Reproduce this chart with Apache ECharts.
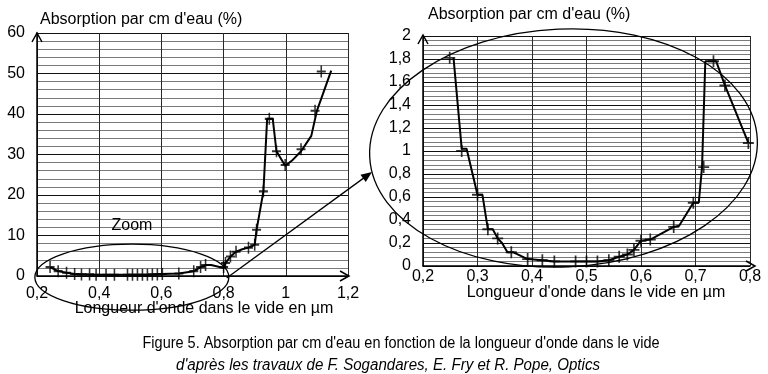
<!DOCTYPE html>
<html><head><meta charset="utf-8">
<script src="https://cdn.jsdelivr.net/npm/echarts@6/dist/echarts.min.js"></script>
<style>html,body{margin:0;padding:0;background:#fff}#c{width:768px;height:374px}</style>
</head><body><div id="c"></div>
<script>
// ---------- DATA ----------
// Left chart (full range) : measured points (crosses)
const leftPointsX = [0.242,0.268,0.295,0.321,0.343,0.369,0.39,0.422,0.449,0.491,0.507,0.523,0.539,0.555,0.571,0.587,0.603,0.656,0.704,0.726,0.742,0.80,0.806,0.822,0.84,0.88,0.90,0.906,0.928,0.947,0.97,0.998,1.049,1.094,1.114];
const leftPointsY = [2.2,1.2,0.8,0.5,0.4,0.4,0.3,0.3,0.3,0.3,0.3,0.3,0.3,0.3,0.4,0.4,0.5,0.6,1.2,2.2,2.7,2.2,3.2,4.8,6.0,7.0,7.7,11.4,20.9,38.8,30.8,27.4,31.3,40.8,50.5];
// Left chart : hand-drawn curve through the points
const leftCurveX = [0.242,0.268,0.295,0.321,0.36,0.42,0.56,0.60,0.656,0.704,0.726,0.742,0.76,0.80,0.806,0.822,0.84,0.86,0.88,0.90,0.906,0.928,0.94,0.958,0.97,0.975,0.998,1.02,1.049,1.082,1.10,1.114,1.146];
const leftCurveY = [2.2,1.2,0.8,0.5,0.4,0.3,0.3,0.5,0.6,1.2,2.2,2.7,2.7,2.0,3.2,4.8,6.0,6.6,7.0,7.7,11.4,20.9,38.8,38.8,30.8,30.5,27.2,28.5,30.8,34.6,40.8,43.8,50.7];
// Right chart (zoom 0.2-0.8 µm) : measured points
const rightPointsX = [0.249,0.271,0.300,0.319,0.337,0.362,0.392,0.419,0.441,0.48,0.50,0.52,0.541,0.56,0.575,0.587,0.60,0.617,0.66,0.696,0.715,0.733,0.754,0.797];
const rightPointsY = [1.81,1.0,0.62,0.32,0.24,0.12,0.06,0.05,0.04,0.04,0.04,0.04,0.05,0.08,0.10,0.14,0.22,0.23,0.34,0.55,0.86,1.78,1.57,1.07];
// Right chart : hand-drawn curve
const rightCurveX = [0.256,0.256,0.271,0.280,0.300,0.309,0.319,0.328,0.337,0.345,0.355,0.365,0.392,0.419,0.441,0.48,0.52,0.541,0.56,0.575,0.587,0.60,0.617,0.66,0.67,0.696,0.706,0.712,0.718,0.738,0.754,0.797];
const rightCurveY = [1.81,1.81,1.02,1.02,0.62,0.62,0.32,0.32,0.24,0.20,0.12,0.12,0.06,0.05,0.04,0.04,0.04,0.05,0.08,0.10,0.14,0.22,0.23,0.34,0.35,0.55,0.55,0.86,1.78,1.78,1.57,1.07];
// Tick labels
const leftXTicks = [0.2,0.4,0.6,0.8,1.0,1.2];
const leftXLabels = ['0,2','0,4','0,6','0,8','1','1,2'];
const leftYTicks = [0,10,20,30,40,50,60];
const leftYLabels = ['0','10','20','30','40','50','60'];
const rightXTicks = [0.2,0.3,0.4,0.5,0.6,0.7,0.8];
const rightXLabels = ['0,2','0,3','0,4','0,5','0,6','0,7','0,8'];
const rightYTicks = [0,0.2,0.4,0.6,0.8,1.0,1.2,1.4,1.6,1.8,2.0];
const rightYLabels = ['0','0,2','0,4','0,6','0,8','1','1,2','1,4','1,6','1,8','2'];
// Texts
const yTitle = "Absorption par cm d'eau (%)";
const xTitle = "Longueur d'onde dans le vide en µm";
const zoomText = 'Zoom';
const caption1 = "Figure 5. Absorption par cm d'eau en fonction de la longueur d'onde dans le vide";
const caption2 = "d'après les travaux de F. Sogandares, E. Fry et R. Pope, Optics";

// ---------- CHART ----------
const FONT = "'Liberation Sans', Arial, sans-serif";
const zip = (a, b) => a.map((v, i) => [v, b[i]]);
const lab = (ticks, labels) => v => { const i = ticks.findIndex(t => Math.abs(t - v) < 1e-6); return i >= 0 ? labels[i] : ''; };
const plus = 'path://M5 0L5 10M0 5L10 5';

function xAxis(gi, min, max, interval, ticks, labels, margin) {
  return { type:'value', gridIndex:gi, min, max, interval,
    axisLine:{show:true, onZero:false, lineStyle:{color:'#000', width:1.5}},
    axisTick:{show:false},
    axisLabel:{formatter:lab(ticks, labels), color:'#000', fontFamily:FONT, fontSize:16, margin, showMaxLabel:true, showMinLabel:true},
    splitLine:{show:true, lineStyle:{color:'#2a2a2a', width:1}} };
}
function yAxis(gi, min, max, interval, ticks, labels) {
  return { type:'value', gridIndex:gi, min, max, interval,
    axisLine:{show:true, onZero:false, lineStyle:{color:'#000', width:1.5}},
    axisTick:{show:false},
    axisLabel:{formatter:lab(ticks, labels), color:'#000', fontFamily:FONT, fontSize:16, margin:12},
    splitLine:{show:true, lineStyle:{color:'#111', width:1.2}},
    minorTick:{show:false, splitNumber:5},
    minorSplitLine:{show:true, lineStyle:{color:'#7a7a7a', width:1}} };
}

const chart = echarts.init(document.getElementById('c'));
chart.setOption({
  animation:false,
  backgroundColor:'#fff',
  grid:[
    {left:37, top:33, width:311, height:243},
    {left:423, top:36, width:327, height:230}
  ],
  xAxis:[ xAxis(0, 0.2, 1.2, 0.2, leftXTicks, leftXLabels, 10), xAxis(1, 0.2, 0.8, 0.1, rightXTicks, rightXLabels, 3) ],
  yAxis:[ yAxis(0, 0, 60, 10, leftYTicks, leftYLabels), yAxis(1, 0, 2, 0.2, rightYTicks, rightYLabels) ],
  series:[
    {type:'line', xAxisIndex:0, yAxisIndex:0, data:zip(leftCurveX, leftCurveY), symbol:'none', lineStyle:{color:'#000', width:2}, z:5},
    {type:'scatter', xAxisIndex:0, yAxisIndex:0, data:zip(leftPointsX, leftPointsY), symbol:plus, symbolSize:[9,12], itemStyle:{color:'rgba(0,0,0,0)', borderColor:'#000', borderWidth:1.8}, z:6},
    {type:'line', xAxisIndex:1, yAxisIndex:1, data:zip(rightCurveX, rightCurveY), symbol:'none', lineStyle:{color:'#000', width:2}, z:5},
    {type:'scatter', xAxisIndex:1, yAxisIndex:1, data:zip(rightPointsX, rightPointsY), symbol:plus, symbolSize:[11,12], itemStyle:{color:'rgba(0,0,0,0)', borderColor:'#000', borderWidth:1.8}, z:6}
  ]
});

// ---------- ANNOTATIONS ----------
const p0 = v => chart.convertToPixel({gridIndex:0}, v);
const p1 = v => chart.convertToPixel({gridIndex:1}, v);
const mctx = document.createElement('canvas').getContext('2d');
function fitScale(text, font, target) { mctx.font = font; return target / mctx.measureText(text).width; }

const L0 = p0([0.2, 0]), L1 = p0([1.2, 60]);
const R0 = p1([0.2, 0]), R1 = p1([0.8, 2]);
const ell = p0([0.505, -0.3]);
const arrowStart = p0([0.81, -0.5]);
const bigC = [ (R0[0] + R1[0]) / 2 - 23, (R0[1] + R1[1]) / 2 - 3 ];
const arrowEnd = [372, 172];
const ang = Math.atan2(arrowEnd[1] - arrowStart[1], arrowEnd[0] - arrowStart[0]);
const ah = 11, aw = 4.5;
const head = [
  arrowEnd,
  [arrowEnd[0] - ah*Math.cos(ang) + aw*Math.sin(ang), arrowEnd[1] - ah*Math.sin(ang) - aw*Math.cos(ang)],
  [arrowEnd[0] - ah*Math.cos(ang) - aw*Math.sin(ang), arrowEnd[1] - ah*Math.sin(ang) + aw*Math.cos(ang)]
];
const capFont1 = '16px ' + FONT;
const capFont2 = 'italic 16px ' + FONT;
const chev = (tip, dir) => dir === 'up'
  ? [[tip[0]-5, tip[1]+9], tip, [tip[0]+5, tip[1]+9]]
  : [[tip[0]-9, tip[1]-5], tip, [tip[0]-9, tip[1]+5]];

const txt = (x, y, text, opts) => ({type:'text', x, y, style:Object.assign({text, fill:'#000', font:'16px ' + FONT, textAlign:'center', textVerticalAlign:'middle'}, opts || {})});

chart.setOption({
  graphic:[
    txt(40, 20, yTitle, {textAlign:'left'}),
    txt(428, 15, yTitle, {textAlign:'left'}),
    txt(204, 309, xTitle),
    txt(596, 293, xTitle),
    txt(132, 226, zoomText),
    Object.assign(txt(401, 344, caption1, {font:capFont1}), {scaleX:fitScale(caption1, capFont1, 517), originX:0, originY:0}),
    Object.assign(txt(388, 366, caption2, {font:capFont2}), {scaleX:fitScale(caption2, capFont2, 424), originX:0, originY:0}),
    {type:'polyline', shape:{points:chev([L0[0], L1[1]], 'up')}, style:{stroke:'#000', lineWidth:1.5, fill:null}, z:10},
    {type:'polyline', shape:{points:chev([L1[0]+1, L0[1]], 'right')}, style:{stroke:'#000', lineWidth:1.5, fill:null}, z:10},
    {type:'polyline', shape:{points:chev([R0[0], R1[1]-1], 'up')}, style:{stroke:'#000', lineWidth:1.5, fill:null}, z:10},
    {type:'polyline', shape:{points:chev([R1[0]+5, R0[1]], 'right')}, style:{stroke:'#000', lineWidth:1.5, fill:null}, z:10},
    {type:'ellipse', shape:{cx:ell[0], cy:ell[1], rx:97, ry:33}, style:{fill:null, stroke:'#000', lineWidth:1.3}, z:10},
    {type:'ellipse', x:bigC[0], y:bigC[1], rotation:0.045, shape:{cx:0, cy:0, rx:194, ry:119}, style:{fill:null, stroke:'#000', lineWidth:1.3}, z:10},
    {type:'line', shape:{x1:arrowStart[0], y1:arrowStart[1], x2:head[0][0] - ah*0.6*Math.cos(ang), y2:head[0][1] - ah*0.6*Math.sin(ang)}, style:{stroke:'#000', lineWidth:1.3}, z:10},
    {type:'polygon', shape:{points:head}, style:{fill:'#000'}, z:10}
  ]
});
</script>
</body></html>
